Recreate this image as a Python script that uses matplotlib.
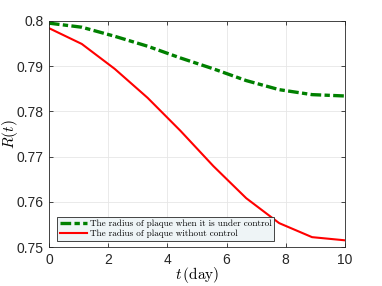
import matplotlib
matplotlib.use("Agg")
import matplotlib.pyplot as plt

# data
t = [0, 1.111, 2.222, 3.333, 4.444, 5.556, 6.667, 7.778, 8.889, 10]
r_control = [0.7995, 0.7986, 0.7966, 0.7944, 0.7918, 0.7894, 0.7868, 0.7848, 0.7837, 0.7834]
r_no_control = [0.7984, 0.7949, 0.7894, 0.7830, 0.7757, 0.7679, 0.7608, 0.7553, 0.7522, 0.7515]

x_ticks = [0, 2, 4, 6, 8, 10]
y_ticks = [0.75, 0.76, 0.77, 0.78, 0.79, 0.80]
y_labels = ["0.75", "0.76", "0.77", "0.78", "0.79", "0.8"]

plt.rcParams["font.family"] = "Liberation Sans"
plt.rcParams["mathtext.fontset"] = "cm"

fig = plt.figure(figsize=(3.82, 2.86), dpi=100)
ax = fig.add_axes([0.128, 0.136, 0.775, 0.791])

ax.plot(t, r_control, color="#008000", linewidth=2.4, linestyle=(0, (3.2, 1.0, 1.6, 1.0)),
        label="The radius of plaque when it is under control")
ax.plot(t, r_no_control, color="red", linewidth=1.5,
        label="The radius of plaque without control")

ax.set_xlim(0, 10)
ax.set_ylim(0.75, 0.80)
ax.set_xticks(x_ticks)
ax.set_yticks(y_ticks)
ax.set_yticklabels(y_labels)
ax.tick_params(direction="in", top=True, right=True, length=3, width=0.6,
               labelsize=10, colors="#262626", pad=4)
ax.grid(True, color="#e6e6e6", linewidth=0.6)
for s in ax.spines.values():
    s.set_color("#262626")
    s.set_linewidth(0.6)

ax.set_xlabel(r"$t\,(\mathrm{day})$", fontsize=11)
ax.set_ylabel(r"$R(t)$", fontsize=11)
ax.xaxis.set_label_coords(0.5, -0.125, transform=ax.transAxes)
ax.yaxis.set_label_coords(-0.13, 0.5, transform=ax.transAxes)
ax.xaxis.label.set_va("center")
ax.yaxis.label.set_va("center")

leg = ax.legend(loc="lower left", bbox_to_anchor=(0.027, 0.027),
                prop={"family": "cmr10", "size": 6.6}, handlelength=3.0,
                borderpad=0.3, labelspacing=0.15, handletextpad=0.3,
                fancybox=False, framealpha=1, borderaxespad=0)
leg.get_frame().set_facecolor("#eef4f6")
leg.get_frame().set_edgecolor("#262626")
leg.get_frame().set_linewidth(0.6)

fig.savefig("out.png", dpi=100)
